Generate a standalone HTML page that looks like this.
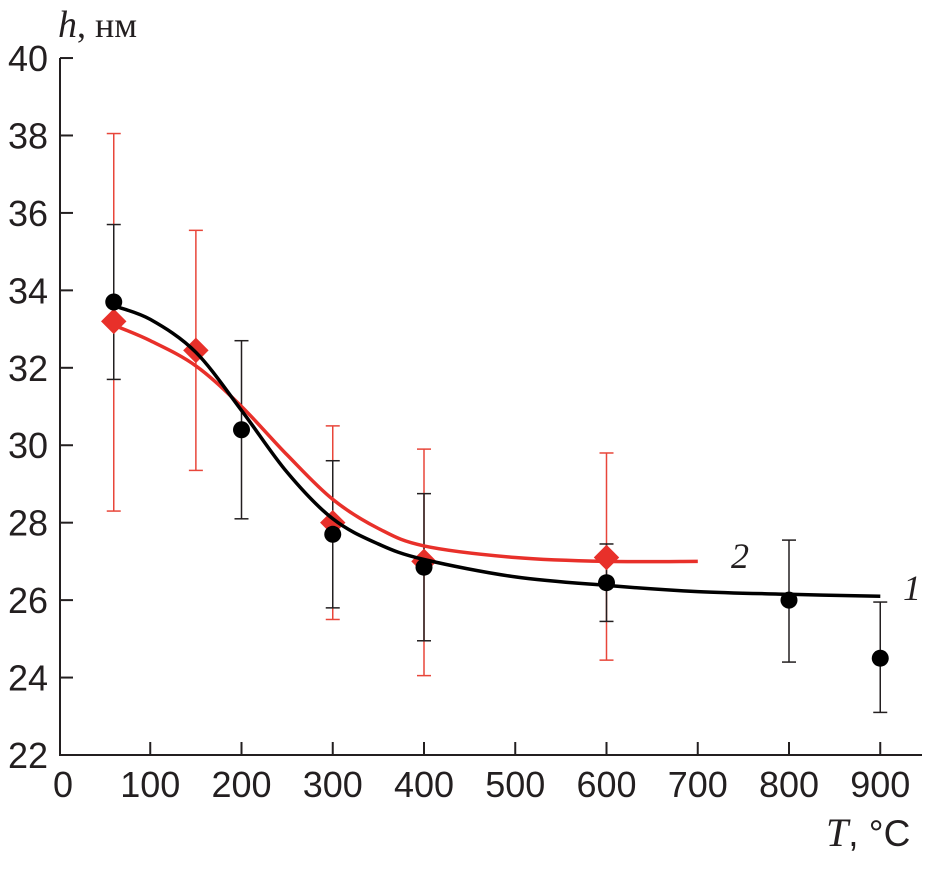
<!DOCTYPE html>
<html><head><meta charset="utf-8"><style>
html,body{margin:0;padding:0;background:#fff}
svg text{font-family:"Liberation Sans",sans-serif;font-size:36px;fill:#231f20}
.it{font-family:"Liberation Serif",serif;font-style:italic}
</style></head><body>
<svg id="chart" width="926" height="869" viewBox="0 0 926 869">
<g id="axes"></g>
<g id="marks"></g>
<text x="58" y="37"><tspan style="font-family:'Liberation Serif',serif;font-size:38px;font-style:italic">h</tspan><tspan style="font-family:'Liberation Serif',serif;font-size:36px">, нм</tspan></text>
<text x="826" y="846"><tspan style="font-family:'Liberation Serif',serif;font-size:40px;font-style:italic">T</tspan><tspan style="font-size:37px">, °C</tspan></text>
<text x="903" y="600" class="it" style="font-size:36px">1</text>
<text x="731" y="568" class="it" style="font-size:36px">2</text>
</svg>
<script>
const xTicks=[0,100,200,300,400,500,600,700,800,900];
const yTicks=[22,24,26,28,30,32,34,36,38,40];
const s1X=[60,200,300,400,600,800,900];
const s1Y=[33.7,30.4,27.7,26.85,26.45,26.0,24.5];
const s1Lo=[31.7,28.1,25.8,24.95,25.45,24.4,23.1];
const s1Hi=[35.7,32.7,29.6,28.75,27.45,27.55,25.95];
const s2X=[60,150,300,400,600];
const s2Y=[33.2,32.45,28.0,27.0,27.1];
const s2Lo=[28.3,29.35,25.5,24.05,24.45];
const s2Hi=[38.05,35.55,30.5,29.9,29.8];
const fit1X=[60,100,150,200,250,300,350,400,500,600,700,800,900];
const fit1Y=[33.6,33.25,32.4,30.9,29.3,28.1,27.45,27.05,26.6,26.38,26.22,26.15,26.1];
const fit2X=[60,100,150,200,250,300,350,400,500,600,700];
const fit2Y=[33.1,32.7,32.05,31.0,29.75,28.6,27.85,27.4,27.1,27.0,27.0];
const X=v=>59+v*0.9125, Y=v=>755-(v-22)*38.72;
const NS="http://www.w3.org/2000/svg";
const ax=document.getElementById('axes'), mk=document.getElementById('marks');
function el(p,tag,a){const e=document.createElementNS(NS,tag);for(const k in a)e.setAttribute(k,a[k]);p.appendChild(e);return e;}
let e=el(ax,'line',{x1:60,y1:58,x2:60,y2:756,stroke:'#231f20','stroke-width':2});


e=el(ax,'line',{x1:59,y1:755,x2:922,y2:755,stroke:'#231f20','stroke-width':2});


xTicks.forEach(v=>{
 if(v>0){e=el(ax,'line',{x1:X(v),y1:755,x2:X(v),y2:742,stroke:'#231f20','stroke-width':2});
 
 }
 e=el(ax,'text',{x:X(v)+(v==0?4:0),y:797,'text-anchor':'middle'});e.textContent=v;
 
 
});
yTicks.forEach(v=>{
 e=el(ax,'line',{x1:60,y1:Y(v),x2:73,y2:Y(v),stroke:'#231f20','stroke-width':2});
 
 
 e=el(ax,'text',{x:48,y:Y(v)+13,'text-anchor':'end'});e.textContent=v;
 
 
});
function errs(xs,lo,hi,col,name){xs.forEach((x,i)=>{
 const g=el(mk,'g',{stroke:col,'stroke-width':1.5});
 
 
 el(g,'line',{x1:X(x),y1:Y(lo[i]),x2:X(x),y2:Y(hi[i])});
 el(g,'line',{x1:X(x)-7,y1:Y(lo[i]),x2:X(x)+7,y2:Y(lo[i])});
 el(g,'line',{x1:X(x)-7,y1:Y(hi[i]),x2:X(x)+7,y2:Y(hi[i])});
});}
errs(s2X,s2Lo,s2Hi,'#e8463a','series-2-error-bar');
errs(s1X,s1Lo,s1Hi,'#231f20','series-1-error-bar');
function curve(xs,ys,col,name){
 const p=xs.map((x,i)=>[X(x),Y(ys[i])]);
 let d='M'+p[0][0].toFixed(1)+','+p[0][1].toFixed(1);
 for(let i=0;i<p.length-1;i++){
  const p0=p[Math.max(0,i-1)],p1=p[i],p2=p[i+1],p3=p[Math.min(p.length-1,i+2)];
  const c1=[p1[0]+(p2[0]-p0[0])/6,p1[1]+(p2[1]-p0[1])/6];
  const c2=[p2[0]-(p3[0]-p1[0])/6,p2[1]-(p3[1]-p1[1])/6];
  d+=` C${c1[0].toFixed(1)},${c1[1].toFixed(1)} ${c2[0].toFixed(1)},${c2[1].toFixed(1)} ${p2[0].toFixed(1)},${p2[1].toFixed(1)}`;
 }
 e=el(mk,'path',{d:d,fill:'none',stroke:col,'stroke-width':3.5,'stroke-linejoin':'round'});
 
 
}
s2X.forEach((x,i)=>{
 e=el(mk,'rect',{x:X(x)-9,y:Y(s2Y[i])-9,width:18,height:18,fill:'#e8302a',transform:`rotate(45 ${X(x)} ${Y(s2Y[i])})`});
 
 
});
curve(fit2X,fit2Y,'#e8302a','series-2-fit');
curve(fit1X,fit1Y,'#000','series-1-fit');
s1X.forEach((x,i)=>{
 e=el(mk,'circle',{cx:X(x),cy:Y(s1Y[i]),r:8.5,fill:'#000'});
 
 
});
</script>
</body></html>
